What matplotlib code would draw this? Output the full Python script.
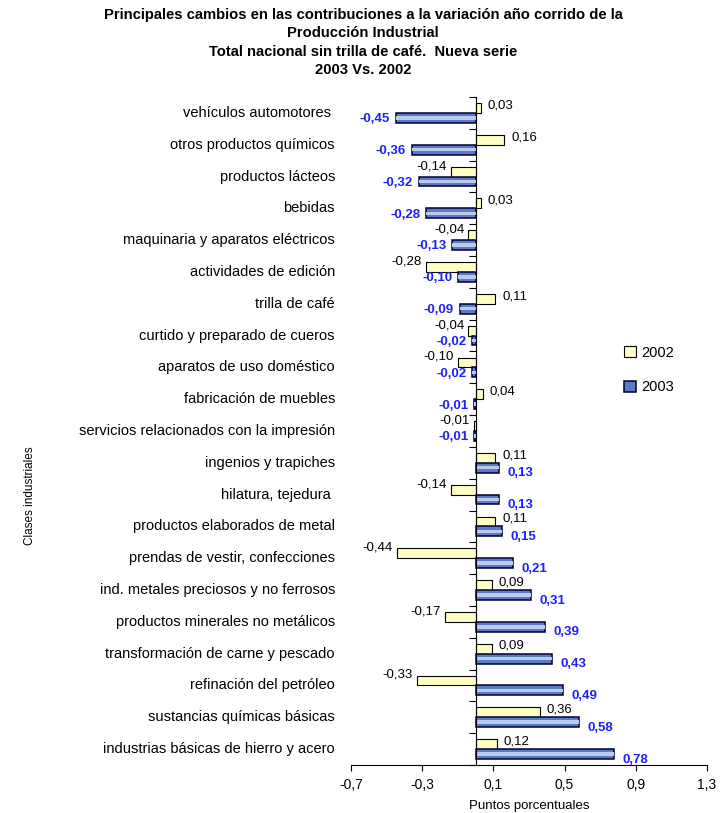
import numpy as np
import matplotlib
matplotlib.use("Agg")
import matplotlib.pyplot as plt
from matplotlib.transforms import blended_transform_factory

plt.rcParams['font.family'] = ['Liberation Sans', 'DejaVu Sans']

categorias = [
    "vehículos automotores ", "otros productos químicos", "productos lácteos",
    "bebidas", "maquinaria y aparatos eléctricos", "actividades de edición",
    "trilla de café", "curtido y preparado de cueros", "aparatos de uso doméstico",
    "fabricación de muebles", "servicios relacionados con la impresión",
    "ingenios y trapiches", "hilatura, tejedura ", "productos elaborados de metal",
    "prendas de vestir, confecciones", "ind. metales preciosos y no ferrosos",
    "productos minerales no metálicos", "transformación de carne y pescado",
    "refinación del petróleo", "sustancias químicas básicas",
    "industrias básicas de hierro y acero",
]
v2002 = [0.03, 0.16, -0.14, 0.03, -0.04, -0.28, 0.11, -0.04, -0.10, 0.04, -0.01,
         0.11, -0.14, 0.11, -0.44, 0.09, -0.17, 0.09, -0.33, 0.36, 0.12]
v2003 = [-0.45, -0.36, -0.32, -0.28, -0.13, -0.10, -0.09, -0.02, -0.02, -0.01, -0.01,
         0.13, 0.13, 0.15, 0.21, 0.31, 0.39, 0.43, 0.49, 0.58, 0.78]
xticks = [-0.7, -0.3, 0.1, 0.5, 0.9, 1.3]

titulo = ("Principales cambios en las contribuciones a la variación año corrido de la\n"
          "Producción Industrial\n"
          "Total nacional sin trilla de café.  Nueva serie\n"
          "2003 Vs. 2002")


def fmt(v):
    return f"{v:.2f}".replace('.', ',')


n = len(categorias)
y = np.arange(n)[::-1]
h = 0.31

fig = plt.figure(figsize=(7.26, 8.13), dpi=100)
ax = fig.add_axes([351 / 726, 1 - 765 / 813, 356 / 726, 668 / 813])

ax.barh(y + h / 2, v2002, height=h, color='#ffffc4', edgecolor='black', linewidth=0.8,
        label='2002')
ax.barh(y - h / 2, v2003, height=h, color='#5b7cc4', edgecolor='#000033', linewidth=1.1,
        label='2003')
# franja clara del degradado
ax.barh(y - h / 2, v2003, height=h * 0.35, color='#b9ccf0', edgecolor='none')

for yi, a, b in zip(y, v2002, v2003):
    if a >= 0:
        ax.annotate(fmt(a), (a, yi + h / 2), xytext=(5, 2), textcoords='offset points',
                    ha='left', va='center', fontsize=9.5)
    else:
        ax.annotate(fmt(a), (a, yi + h / 2), xytext=(-3, 4), textcoords='offset points',
                    ha='right', va='center', fontsize=9.5)
    if b >= 0:
        ax.annotate(fmt(b), (b, yi - h / 2), xytext=(6, -4), textcoords='offset points',
                    ha='left', va='center', fontsize=9.5, color='#1f1fff', fontweight='bold')
    else:
        ax.annotate(fmt(b), (b, yi - h / 2), xytext=(-4, -1), textcoords='offset points',
                    ha='right', va='center', fontsize=9.5, color='#1f1fff', fontweight='bold')

trans = blended_transform_factory(ax.transAxes, ax.transData)
for yi, c in zip(y, categorias):
    ax.text(-0.045, yi, c, transform=trans, ha='right', va='center', fontsize=10.5)

ax.set_xlim(-0.7, 1.3)
ax.set_ylim(-0.5, n - 0.5)
ax.set_xticks(xticks)
ax.set_xticklabels([f"{t:.1f}".replace('.', ',') for t in xticks], fontsize=10)
ax.tick_params(axis='x', length=4, pad=5, width=0.8)

ax.spines['left'].set_position(('data', 0))
ax.spines['right'].set_visible(False)
ax.spines['top'].set_visible(False)
ax.set_yticks([])
ax.set_yticks(np.arange(n + 1) - 0.5, minor=True)
ax.tick_params(axis='y', which='minor', length=5, width=0.8, direction='out')

ax.set_xlabel("Puntos porcentuales", fontsize=9.5, labelpad=6)
fig.text(0.041, 0.39, "Clases industriales", rotation=90, ha='center', va='center',
         fontsize=8.5)

ax.legend(loc='upper left', bbox_to_anchor=(0.73, 0.647), frameon=False, fontsize=10.5,
          handlelength=0.8, handleheight=0.8, labelspacing=1.4, handletextpad=0.4)

fig.text(0.5, 1 - 8 / 813, titulo, ha='center', va='top', fontsize=10.6, fontweight='bold',
         linespacing=1.4)

fig.savefig("out.png", dpi=100)
